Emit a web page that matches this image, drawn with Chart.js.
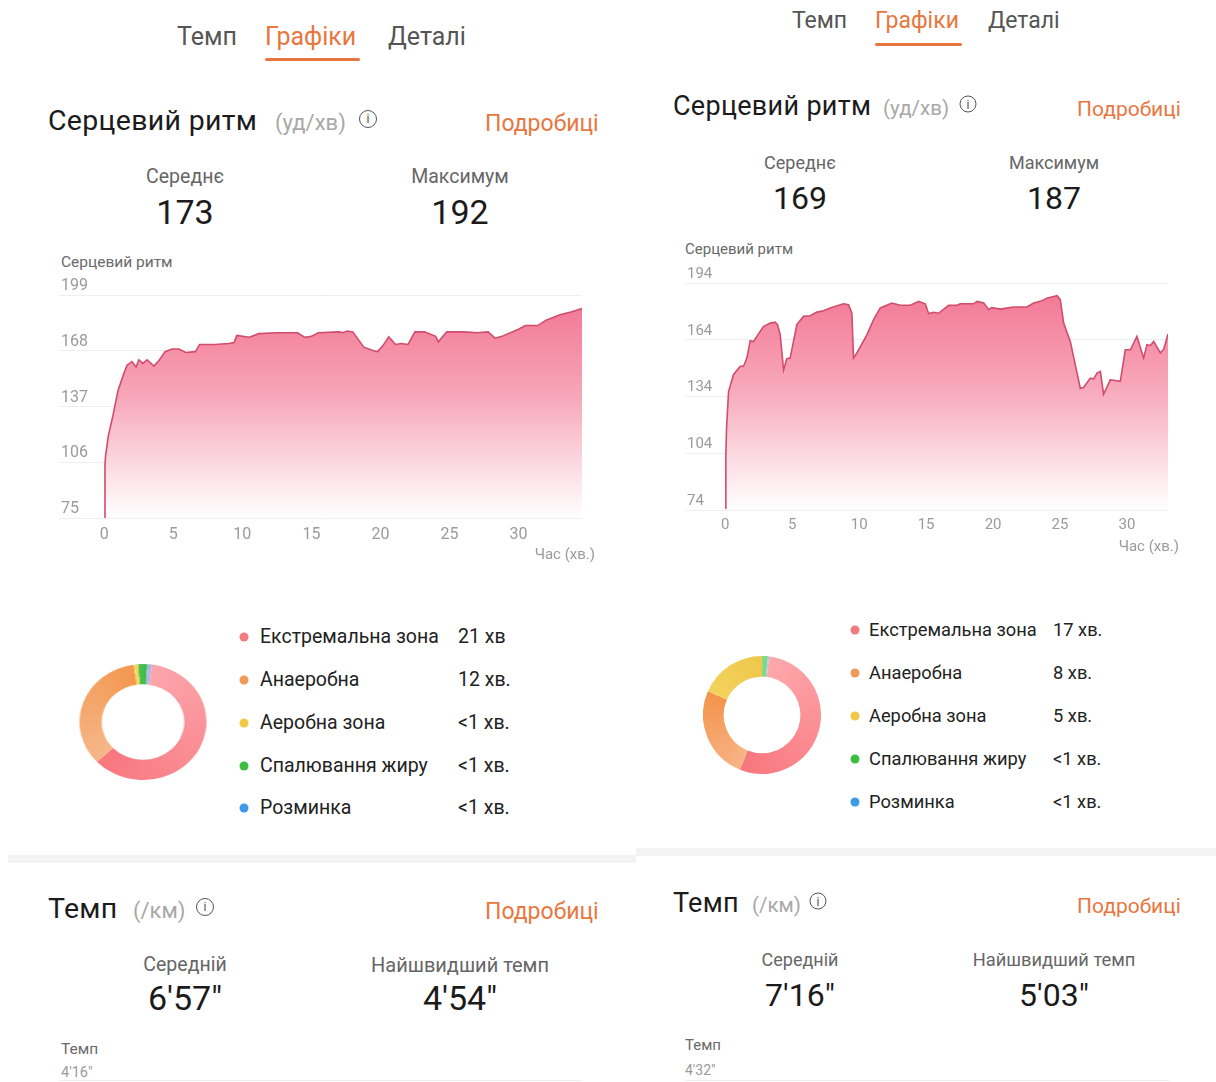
<!DOCTYPE html>
<html lang="uk">
<head>
<meta charset="utf-8">
<script src="https://cdn.jsdelivr.net/npm/chart.js"></script>
<style>
  html, body { margin:0; padding:0; background:#fff; }
  body { width:1216px; height:1082px; position:relative; overflow:hidden; font-family: Roboto, "Noto Sans", sans-serif; }
  .t { position:absolute; white-space:nowrap; line-height:1.2; transform: translateY(-50%); }
  .c { position:absolute; white-space:nowrap; line-height:1.2; transform: translate(-50%,-50%); }
  .r { position:absolute; white-space:nowrap; line-height:1.2; transform: translate(-100%,-50%); }
  .tab { color:#555; }
  .act { color:#e8773f; }
  .ul { position:absolute; height:3px; background:#e8773f; border-radius:2px; }
  .title { color:#1b1b1b; letter-spacing:0.3px; }
  .unit { color:#a8a8a8; }
  .more { color:#e8773f; }
  .lab { color:#666; }
  .num { color:#1b1b1b; }
  .small { color:#6a6a6a; }
  .axis { color:#9a9a9a; }
  .info { position:absolute; border:1.4px solid #555; border-radius:50%; box-sizing:border-box; transform:translate(-50%,-50%);
          color:#555; font-size:12px; line-height:1; display:flex; align-items:center; justify-content:center; }
  .dot { position:absolute; width:9px; height:9px; border-radius:50%; transform:translate(-50%,-50%); }
  .leg { color:#222; }
  .band { position:absolute; background:#f3f3f3; }
  .hl { position:absolute; height:1px; background:#eeeeee; }
  canvas { display:block; }
  .box { position:absolute; }
</style>
</head>
<body>

<!-- LEFT PANEL -->
<div class="t tab" style="left:177px; top:37px; font-size:25px;">Темп</div>
<div class="t act" style="left:265px; top:37px; font-size:25px;">Графіки</div>
<div class="t tab" style="left:388px; top:37px; font-size:25px;">Деталі</div>
<div class="ul" style="left:265px; top:58px; width:95px;"></div>

<div class="t title" style="left:48px; top:121px; font-size:28.5px;">Серцевий ритм</div>
<div class="t unit" style="left:275px; top:123px; font-size:22px;">(уд/хв)</div>
<div class="info" style="left:368px; top:119px; width:18px; height:18px;">i</div>
<div class="t more" style="left:485px; top:124px; font-size:23px;">Подробиці</div>

<div class="c lab" style="left:185px; top:177px; font-size:19.5px;">Середнє</div>
<div class="c num" style="left:185px; top:212px; font-size:34px;">173</div>
<div class="c lab" style="left:460px; top:177px; font-size:19.5px;">Максимум</div>
<div class="c num" style="left:460px; top:212px; font-size:34px;">192</div>

<div class="t small" style="left:61px; top:262px; font-size:15.5px;">Серцевий ритм</div>
<div class="box" style="left:55px; top:275px;"><canvas id="hrLeft" width="527" height="277" style="width:527px;height:277px;"></canvas></div>
<div class="r axis" style="left:595px; top:554px; font-size:15px;">Час (хв.)</div>

<div class="box" id="donutLeftBox" style="left:85px; top:664px; width:116px; height:116px; transform:scaleX(1.095);"><canvas id="donutLeft" width="116" height="116" style="width:116px;height:116px;"></canvas></div>
<div id="legendLeft"></div>

<div class="band" style="left:8px; top:855px; width:628px; height:8px;"></div>

<div class="t title" style="left:48px; top:909px; font-size:28.5px;">Темп</div>
<div class="t unit" style="left:133px; top:911px; font-size:22px;">(/км)</div>
<div class="info" style="left:205px; top:907px; width:18px; height:18px;">i</div>
<div class="t more" style="left:485px; top:912px; font-size:23px;">Подробиці</div>
<div class="c lab" style="left:185px; top:965px; font-size:19.5px;">Середній</div>
<div class="c num" style="left:185px; top:998px; font-size:34px;">6'57"</div>
<div class="c lab" style="left:460px; top:965px; font-size:20px;">Найшвидший темп</div>
<div class="c num" style="left:460px; top:998px; font-size:34px;">4'54"</div>
<div class="t small" style="left:61px; top:1049px; font-size:15.5px;">Темп</div>
<div class="t axis" style="left:61px; top:1073px; font-size:14.5px;">4'16"</div>
<div class="hl" style="left:59px; top:1080px; width:523px;"></div>

<!-- RIGHT PANEL -->
<div class="t tab" style="left:792px; top:21px; font-size:23px;">Темп</div>
<div class="t act" style="left:875px; top:21px; font-size:23px;">Графіки</div>
<div class="t tab" style="left:988px; top:21px; font-size:23px;">Деталі</div>
<div class="ul" style="left:875px; top:43px; width:87px;"></div>

<div class="t title" style="left:673px; top:106px; font-size:27px;">Серцевий ритм</div>
<div class="t unit" style="left:883px; top:108px; font-size:20.5px;">(уд/хв)</div>
<div class="info" style="left:968px; top:104px; width:17px; height:17px;">i</div>
<div class="t more" style="left:1077px; top:110px; font-size:21px;">Подробиці</div>

<div class="c lab" style="left:800px; top:163px; font-size:18px;">Середнє</div>
<div class="c num" style="left:800px; top:198px; font-size:32px;">169</div>
<div class="c lab" style="left:1054px; top:163px; font-size:18px;">Максимум</div>
<div class="c num" style="left:1054px; top:198px; font-size:32px;">187</div>

<div class="t small" style="left:685px; top:249px; font-size:15px;">Серцевий ритм</div>
<div class="box" style="left:681px; top:263px;"><canvas id="hrRight" width="487" height="277" style="width:487px;height:277px;"></canvas></div>
<div class="r axis" style="left:1179px; top:546px; font-size:15px;">Час (хв.)</div>

<div class="box" id="donutRightBox" style="left:703px; top:656px; width:118px; height:118px;"><canvas id="donutRight" width="118" height="118" style="width:118px;height:118px;"></canvas></div>
<div id="legendRight"></div>

<div class="band" style="left:636px; top:848px; width:580px; height:8px;"></div>

<div class="t title" style="left:673px; top:903px; font-size:27px;">Темп</div>
<div class="t unit" style="left:752px; top:905px; font-size:20.5px;">(/км)</div>
<div class="info" style="left:818px; top:901px; width:17px; height:17px;">i</div>
<div class="t more" style="left:1077px; top:907px; font-size:21px;">Подробиці</div>
<div class="c lab" style="left:800px; top:960px; font-size:18px;">Середній</div>
<div class="c num" style="left:800px; top:995px; font-size:32px;">7'16"</div>
<div class="c lab" style="left:1054px; top:960px; font-size:18.3px;">Найшвидший темп</div>
<div class="c num" style="left:1054px; top:995px; font-size:32px;">5'03"</div>
<div class="t small" style="left:685px; top:1045px; font-size:15px;">Темп</div>
<div class="t axis" style="left:685px; top:1070px; font-size:14px;">4'32"</div>
<div class="hl" style="left:685px; top:1080px; width:485px;"></div>

<script>
// ---------------- DATA ----------------
const xTickValues = [0, 5, 10, 15, 20, 25, 30];

// Left workout heart rate (minutes, bpm)
const leftTime = [0, 0.05, 0.1, 0.3, 0.6, 1.0, 1.4, 1.65, 2.0, 2.3, 2.5, 2.8, 3.1, 3.6, 4.0, 4.4, 4.9, 5.4, 5.9, 6.6, 6.9, 8.0, 9.0, 9.4, 9.6, 10.5, 11.2, 12.5, 14.0, 14.5, 15.0, 15.5, 17.0, 17.3, 17.6, 18.0, 18.8, 19.5, 19.8, 20.2, 20.6, 21.1, 21.5, 22.0, 22.5, 23.2, 24.0, 24.2, 24.8, 26.0, 27.0, 27.8, 28.3, 28.8, 30.0, 30.5, 31.4, 32.0, 33.0, 33.8, 34.6];
const leftBpm = [75, 105, 110, 121, 131, 146, 155, 160, 162, 159, 163, 161, 163, 159.5, 163, 167.5, 169, 169, 167, 167.5, 171.5, 171.5, 172, 172.5, 176.5, 175.5, 177.5, 178, 178, 175.5, 176, 178, 178.5, 178, 179, 178.5, 170, 168, 167.5, 171, 175.8, 171.5, 172, 171.5, 178.5, 178.5, 176, 173, 178.5, 178.5, 178, 178.5, 175, 176, 180, 182, 182, 185, 188, 189.5, 191.5];
const leftYTicks = [75, 106, 137, 168, 199];

// Right workout heart rate (minutes, bpm)
const rightTime = [0, 0.05, 0.1, 0.25, 0.62, 1.12, 1.37, 1.62, 1.87, 2.12, 2.36, 2.86, 3.36, 3.73, 3.91, 4.11, 4.36, 4.6, 4.85, 5.35, 5.85, 6.35, 6.85, 7.34, 7.84, 8.84, 9.21, 9.46, 9.58, 9.83, 10.58, 11.08, 11.58, 12.45, 13.07, 13.82, 14.44, 14.94, 15.19, 15.56, 15.93, 16.68, 17.3, 17.55, 18.55, 18.8, 19.3, 19.67, 19.92, 20.54, 21.53, 22.53, 23.03, 23.53, 24.02, 24.77, 25.02, 25.27, 25.77, 26.51, 26.76, 27.26, 27.51, 27.76, 28.01, 28.25, 28.75, 29.13, 29.5, 29.87, 30.25, 30.74, 31.24, 31.49, 31.74, 31.99, 32.49, 32.74, 33.06];
const rightBpm = [75, 103, 117, 136.6, 145.5, 150, 150, 154.3, 163.5, 163, 165.8, 171, 172.8, 173.3, 172, 166.6, 148, 154, 154.3, 172, 176.4, 176.7, 178.6, 179.3, 180.8, 183, 182.5, 178, 154.3, 157, 166.6, 174.6, 180.8, 183.4, 182.2, 182.2, 184.3, 183, 177.8, 178.5, 178, 182.2, 182.2, 183, 183, 184.3, 183.5, 180, 181, 180.2, 181.3, 181.3, 183.4, 184.3, 186, 187.3, 185.2, 172.8, 163, 138.4, 138.8, 143.7, 143.3, 146.4, 147.2, 135.2, 142.8, 142.5, 142, 158.7, 158.7, 165.8, 154.3, 161.4, 161, 163.1, 157, 159, 167];
const rightYTicks = [74, 104, 134, 164, 194];

// Heart-rate zones
const zoneNames = ['Екстремальна зона', 'Анаеробна', 'Аеробна зона', 'Спалювання жиру', 'Розминка'];
const leftZoneMinutes = [21, 12, 0.4, 0.8, 0.4];
const leftZoneLabels = ['21 хв', '12 хв.', '<1 хв.', '<1 хв.', '<1 хв.'];
const rightZoneMinutes = [17, 8, 5.8, 0.5, 0.1];
const rightZoneLabels = ['17 хв.', '8 хв.', '5 хв.', '<1 хв.', '<1 хв.'];

// ---------------- STYLE ----------------
const zoneDotColors = ['#f27b80', '#f09a58', '#f1c845', '#3cbf3f', '#3d9aea'];
const leftZoneShades = [['#fca6ab', '#f8777e'], ['#f7b78a', '#f3984f'], ['#f6dc6a', '#f2cf50'], ['#4cc250', '#3fbb45'], ['#a9b8ea', '#a9b8ea']];
const rightZoneShades = [['#fea8ac', '#f8767d'], ['#f8b486', '#f4934c'], ['#f3d25c', '#eec84a'], ['#7cd98a', '#7cd98a'], ['#a8c8ea', '#a8c8ea']];

Chart.defaults.font.family = 'Roboto, "Noto Sans", sans-serif';

function hrChart(id, times, bpm, yTicks, xMin, xMax, tickFont, xPad) {
  const pts = times.map((t, i) => ({ x: t, y: bpm[i] }));
  return new Chart(document.getElementById(id), {
    type: 'line',
    data: { datasets: [{
      data: pts,
      borderColor: '#d24c6c',
      borderWidth: 1.6,
      pointRadius: 0,
      tension: 0,
      fill: 'start',
      backgroundColor: (ctx) => {
        const ca = ctx.chart.chartArea;
        if (!ca) return 'rgba(246,130,155,0.6)';
        const g = ctx.chart.ctx.createLinearGradient(0, ca.top, 0, ca.bottom);
        g.addColorStop(0, '#f27492');
        g.addColorStop(0.45, '#f7a6b8');
        g.addColorStop(0.8, '#fce0e7');
        g.addColorStop(1, '#ffffff');
        return g;
      }
    }]},
    options: {
      responsive: false, animation: false, devicePixelRatio: 1,
      layout: { padding: { top: 20, left: 0, right: 0, bottom: 0 } },
      plugins: { legend: { display: false }, tooltip: { enabled: false } },
      scales: {
        x: {
          type: 'linear', min: xMin, max: xMax,
          afterBuildTicks: (axis) => { axis.ticks = xTickValues.map(v => ({ value: v })); },
          grid: { display: false, drawTicks: false },
          border: { display: false },
          ticks: { color: '#9a9a9a', font: { size: tickFont }, padding: xPad, maxRotation: 0, autoSkip: false }
        },
        y: {
          min: yTicks[0], max: yTicks[yTicks.length - 1],
          afterBuildTicks: (axis) => { axis.ticks = yTicks.map(v => ({ value: v })); },
          grid: { color: '#eeeeee', drawTicks: false, lineWidth: 1 },
          border: { display: false },
          ticks: { mirror: true, padding: 2, labelOffset: -9, color: '#9a9a9a', font: { size: tickFont } }
        }
      }
    }
  });
}

hrChart('hrLeft', leftTime, leftBpm, leftYTicks, -3.28, 34.6, 16, 7.4);
hrChart('hrRight', rightTime, rightBpm, rightYTicks, -3.0, 33.06, 15, 6);

function donut(id, minutes, shades, rotationDeg) {
  const total = minutes.reduce((a, b) => a + b, 0);
  let grad = null;
  const getGrad = (chart) => {
    if (grad) return grad;
    const ca = chart.chartArea;
    if (!ca || !chart.ctx.createConicGradient) return null;
    const cx = (ca.left + ca.right) / 2, cy = (ca.top + ca.bottom) / 2;
    grad = chart.ctx.createConicGradient(-Math.PI / 2 + rotationDeg * Math.PI / 180, cx, cy);
    let acc = 0;
    minutes.forEach((m, i) => {
      const a = acc / total, b = (acc + m) / total;
      grad.addColorStop(a, shades[i][0]);
      grad.addColorStop(Math.min(b, 1), shades[i][1]);
      acc += m;
    });
    return grad;
  };
  return new Chart(document.getElementById(id), {
    type: 'doughnut',
    data: { labels: zoneNames, datasets: [{
      data: minutes,
      borderWidth: 0,
      backgroundColor: (ctx) => getGrad(ctx.chart) || shades[ctx.dataIndex][1]
    }]},
    options: {
      responsive: false, animation: false, devicePixelRatio: 1,
      cutout: '65%', rotation: rotationDeg,
      layout: { padding: 0 },
      plugins: { legend: { display: false }, tooltip: { enabled: false } }
    }
  });
}
donut('donutLeft', leftZoneMinutes, leftZoneShades, 8);
donut('donutRight', rightZoneMinutes, rightZoneShades, 7);

function legend(containerId, dotX, textX, valX, ys, values, fontSize) {
  const el = document.getElementById(containerId);
  let html = '';
  zoneNames.forEach((n, i) => {
    html += `<div class="dot" style="left:${dotX}px; top:${ys[i]}px; background:${zoneDotColors[i]};"></div>`;
    html += `<div class="t leg" style="left:${textX}px; top:${ys[i]}px; font-size:${fontSize}px;">${n}</div>`;
    html += `<div class="t leg" style="left:${valX}px; top:${ys[i]}px; font-size:${fontSize}px;">${values[i].replace('<', '&lt;')}</div>`;
  });
  el.innerHTML = html;
}
legend('legendLeft', 244, 260, 458, [637, 680, 723, 766, 808], leftZoneLabels, 19.5);
legend('legendRight', 855, 869, 1053, [630, 673, 716, 759, 802], rightZoneLabels, 18.3);
</script>
</body>
</html>
